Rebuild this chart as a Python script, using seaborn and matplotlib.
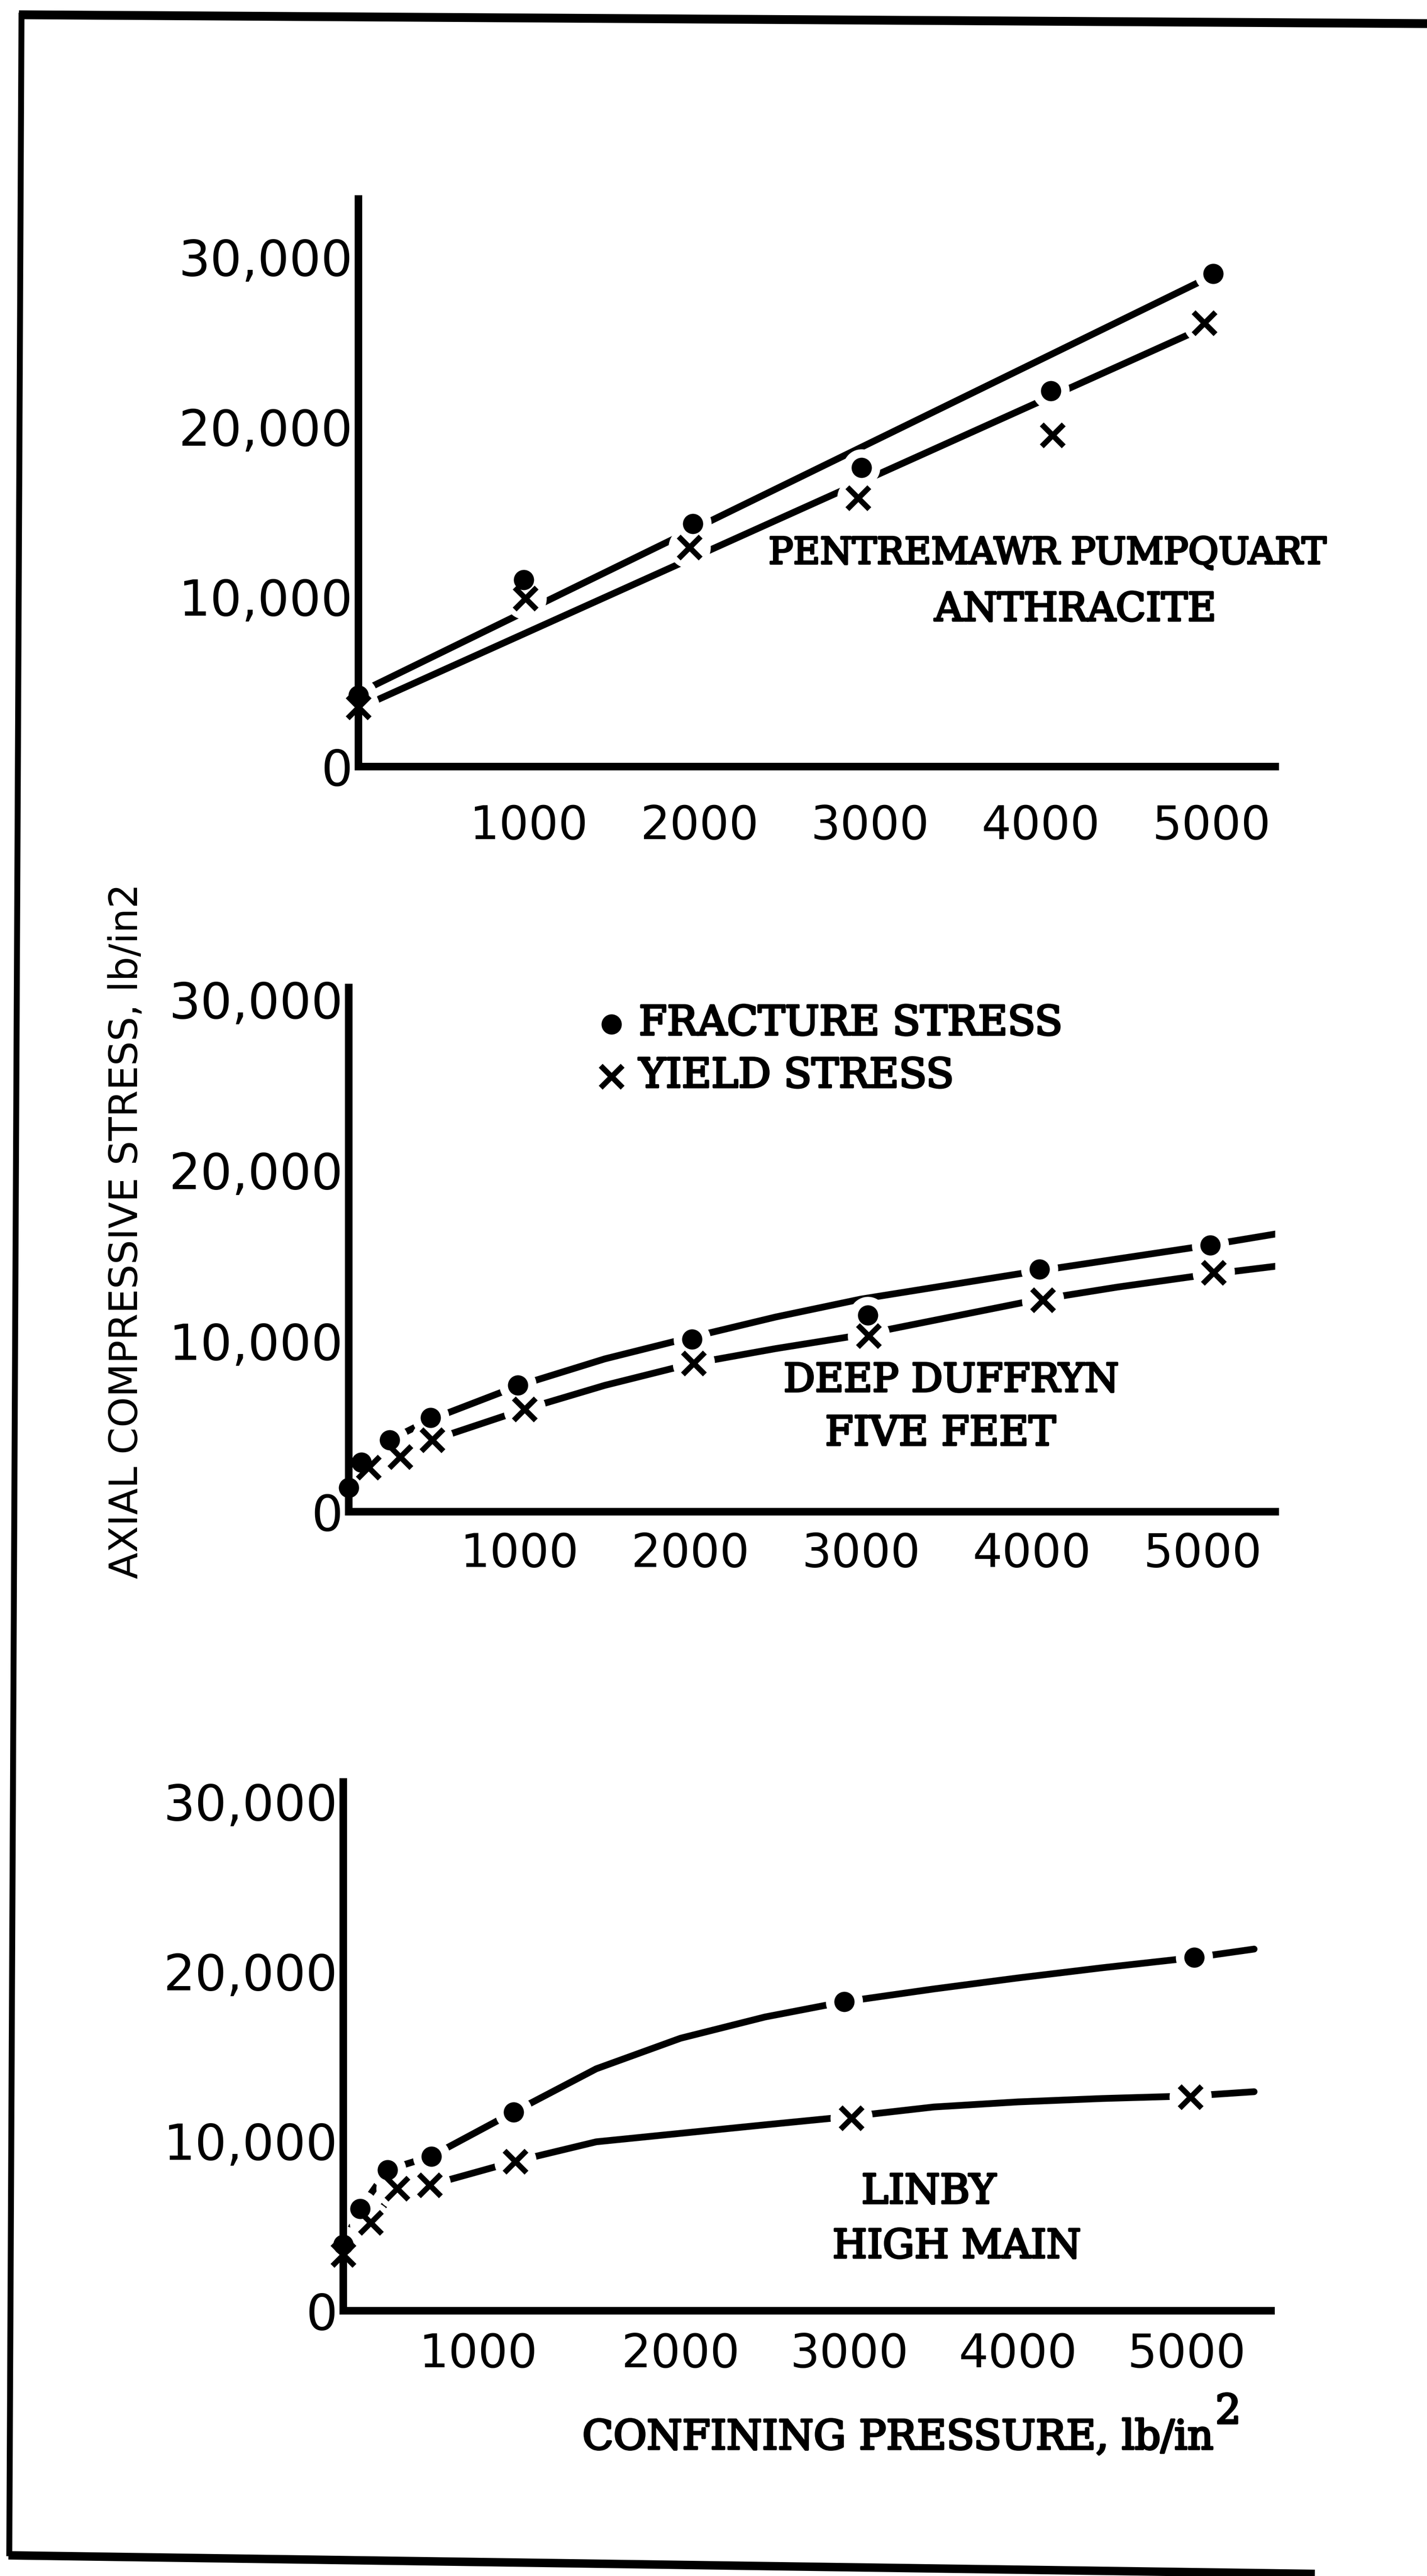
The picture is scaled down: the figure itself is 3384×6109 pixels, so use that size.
import numpy as np
import pandas as pd
import matplotlib
matplotlib.use("Agg")
import matplotlib.pyplot as plt
import matplotlib.patheffects as pe
import seaborn as sns
from matplotlib import font_manager as fm
from matplotlib.textpath import TextPath
from matplotlib.lines import Line2D
from matplotlib.transforms import ScaledTranslation

# ---------------------------------------------------------------- data
# Pentremawr Pumpquart anthracite (confining pressure, axial stress in lb/in2)
PENT_FRAC_P = [0, 970, 1960, 2950, 4060, 5010]
PENT_FRAC_S = [4200, 11000, 14300, 17600, 22100, 29000]
PENT_YIELD_P = [0, 980, 1940, 2930, 4070, 4960]
PENT_YIELD_S = [3500, 9900, 12900, 15800, 19500, 26100]
PENT_FRAC_FIT_P = [0, 5000]
PENT_FRAC_FIT_S = [4330, 28860]
PENT_YIELD_FIT_P = [0, 4950]
PENT_YIELD_FIT_S = [3430, 25800]

# Deep Duffryn Five Feet
DUFF_FRAC_P = [0, 75, 240, 480, 990, 2010, 3040, 4045, 5045]
DUFF_FRAC_S = [1400, 2900, 4200, 5500, 7400, 10100, 11500, 14200, 15600]
DUFF_YIELD_P = [115, 300, 490, 1030, 2020, 3045, 4065, 5065]
DUFF_YIELD_S = [2600, 3200, 4200, 6000, 8700, 10300, 12400, 14000]
DUFF_FRAC_CURVE_P = [0, 75, 240, 480, 1000, 1500, 2000, 2500, 3000, 3500, 4000, 4500, 5000, 5450]
DUFF_FRAC_CURVE_S = [1400, 2900, 4200, 5400, 7400, 8950, 10200, 11400, 12450, 13250, 14050, 14800, 15550, 16300]
DUFF_YIELD_CURVE_P = [0, 115, 300, 490, 1030, 1500, 2000, 2500, 3000, 3500, 4000, 4500, 5000, 5450]
DUFF_YIELD_CURVE_S = [1400, 2600, 3200, 4200, 6000, 7400, 8650, 9550, 10350, 11350, 12350, 13150, 13850, 14400]

# Linby High Main
LIN_FRAC_P = [0, 100, 263, 522, 1010, 2970, 5045]
LIN_FRAC_S = [3900, 6000, 8300, 9100, 11700, 18200, 20800]
LIN_YIELD_P = [0, 163, 320, 512, 1019, 3013, 5022]
LIN_YIELD_S = [3300, 5200, 7200, 7400, 8800, 11350, 12600]
LIN_FRAC_CURVE_P = [0, 100, 263, 522, 1010, 1500, 2000, 2500, 2970, 3500, 4000, 4500, 5045, 5400]
LIN_FRAC_CURVE_S = [3900, 6000, 8300, 9100, 11700, 14250, 16050, 17300, 18200, 18950, 19600, 20200, 20800, 21300]
LIN_YIELD_CURVE_P = [0, 163, 320, 512, 1019, 1500, 2000, 2500, 3013, 3500, 4000, 4500, 5022, 5400]
LIN_YIELD_CURVE_S = [3300, 5200, 7200, 7400, 8800, 9950, 10450, 10950, 11450, 12000, 12300, 12500, 12650, 12900]

# axis ticks and text
X_TICKS = [1000, 2000, 3000, 4000, 5000]
X_TICK_LABELS = ["1000", "2000", "3000", "4000", "5000"]
Y_TICKS = [0, 10000, 20000, 30000]
Y_TICK_LABELS = ["0", "10,000", "20,000", "30,000"]
SERIES_NAMES = ["FRACTURE STRESS", "YIELD STRESS"]
PANEL_NAMES = [["PENTREMAWR PUMPQUART", "ANTHRACITE"],
               ["DEEP DUFFRYN", "FIVE FEET"],
               ["LINBY", "HIGH MAIN"]]
X_LABEL = "CONFINING PRESSURE, lb/in"
X_LABEL_SUP = "2"
Y_LABEL = "AXIAL COMPRESSIVE STRESS, lb/in2"

# ---------------------------------------------------------------- page setup
W, H, DPI = 3384, 6109, 100
PT = 72.0 / DPI          # points per pixel

sns.set_style("white")


def has_font(name):
    try:
        fm.findfont(fm.FontProperties(family=name), fallback_to_default=False)
        return True
    except Exception:
        return False


LETTER = ["Liberation Sans Narrow", "DejaVu Sans"] if has_font("Liberation Sans Narrow") else ["DejaVu Sans"]
TYPE = ["DejaVu Serif", "Liberation Serif"]
plt.rcParams["font.family"] = LETTER
plt.rcParams["axes.axisbelow"] = False

fig = plt.figure(figsize=(W / DPI, H / DPI), dpi=DPI)
fig.patch.set_facecolor("white")


def fx(px):
    return px / W


def fy(py):
    return 1.0 - py / H


def ink(text, family, weight="normal"):
    prop = fm.FontProperties(family=family, weight=weight)
    return TextPath((0, 0), text, size=100, prop=prop).get_extents()


def fit_size(text, family, weight, width_px, height_px=None, height_text="H"):
    """Font size (pt) whose ink width (and optionally cap height) match the targets."""
    s_w = 100.0 * width_px * PT / ink(text, family, weight).width
    if height_px is None:
        return s_w
    s_h = 100.0 * height_px * PT / ink(height_text, family, weight).height
    return float(np.sqrt(s_w * s_h))


YT_SIZE = fit_size("30,000", LETTER, "normal", 377, 94, "0")
XT_SIZE = fit_size("1000", LETTER, "normal", 243, 90, "0")
YL_SIZE = fit_size(Y_LABEL, LETTER, "normal", 1640)
TW_SIZE = fit_size(PANEL_NAMES[0][0], TYPE, "normal", 1300)
CAP_PER_PT = ink("H", TYPE).height / 100.0 / PT     # cap height px per point of size
TW_FX = [pe.withStroke(linewidth=5 * PT, foreground="black")]


def tw_size(text, width_px):
    s = fit_size(text, TYPE, "normal", width_px)
    return float(np.clip(s, 0.88 * TW_SIZE, 1.12 * TW_SIZE))


def typed(cx, cy, text, width_px, ha="center"):
    size = tw_size(text, width_px)
    return fig.text(fx(cx), fy(cy + CAP_PER_PT * size / 2), text, ha=ha, va="baseline",
                    family=TYPE, fontsize=size, color="black", path_effects=TW_FX)


# mark styling (points)
LW = 16 * PT
DOT = 48 * PT
CROSS = 52 * PT
CROSS_LW = 13 * PT
HALO_DOT = 88 * PT
HALO_CROSS = 100 * PT
SPINE_LW = 18 * PT
TICK_LEN = 38 * PT
TICK_W = 11 * PT

# panel geometry: origin px, px per 1000 psi, px per 10000 stress, limits, label pad
PANELS = [
    dict(ox=850, oy=1818, sx=404.5, sy=403.0, xmax=5375, ymax=33400, pad=88,
         frac=(PENT_FRAC_P, PENT_FRAC_S), yld=(PENT_YIELD_P, PENT_YIELD_S),
         frac_line=(PENT_FRAC_FIT_P, PENT_FRAC_FIT_S),
         yld_line=(PENT_YIELD_FIT_P, PENT_YIELD_FIT_S),
         names=[(2484, 1305, 1317), (2550, 1438, 661)]),
    dict(ox=827, oy=3585, sx=405.0, sy=405.0, xmax=5425, ymax=30700, pad=47,
         frac=(DUFF_FRAC_P, DUFF_FRAC_S), yld=(DUFF_YIELD_P, DUFF_YIELD_S),
         frac_line=(DUFF_FRAC_CURVE_P, DUFF_FRAC_CURVE_S),
         yld_line=(DUFF_YIELD_CURVE_P, DUFF_YIELD_CURVE_S),
         names=[(2256, 3266, 786), (2230, 3392, 599)]),
    dict(ox=814, oy=5480, sx=400.0, sy=402.7, xmax=5500, ymax=31150, pad=50,
         frac=(LIN_FRAC_P, LIN_FRAC_S), yld=(LIN_YIELD_P, LIN_YIELD_S),
         frac_line=(LIN_FRAC_CURVE_P, LIN_FRAC_CURVE_S),
         yld_line=(LIN_YIELD_CURVE_P, LIN_YIELD_CURVE_S),
         names=[(2202, 5190, 322), (2269, 5320, 580)]),
]

axes = []
for i, p in enumerate(PANELS):
    right = p["ox"] + p["xmax"] / 1000.0 * p["sx"]
    top = p["oy"] - p["ymax"] / 10000.0 * p["sy"]
    ax = fig.add_axes([fx(p["ox"]), fy(p["oy"]), fx(right) - fx(p["ox"]), (p["oy"] - top) / H])
    ax.patch.set_alpha(0)
    axes.append(ax)

    # trend lines through each series
    for xs, ys in (p["frac_line"], p["yld_line"]):
        df = pd.DataFrame({"p": xs, "s": ys})
        sns.lineplot(data=df, x="p", y="s", ax=ax, color="black", linewidth=LW,
                     estimator=None, sort=False, solid_capstyle="round", zorder=2)

    fr = pd.DataFrame({"p": p["frac"][0], "s": p["frac"][1]})
    yl = pd.DataFrame({"p": p["yld"][0], "s": p["yld"][1]})

    # white surround that opens the lines around each plotted point
    sns.scatterplot(data=fr, x="p", y="s", ax=ax, color="white", s=HALO_DOT ** 2,
                    linewidth=0, edgecolor=None, zorder=2.2, clip_on=False, legend=False)
    sns.scatterplot(data=yl, x="p", y="s", ax=ax, color="white", s=HALO_CROSS ** 2,
                    linewidth=0, edgecolor=None, zorder=2.2, clip_on=False, legend=False)

    # measured points
    sns.scatterplot(data=fr, x="p", y="s", ax=ax, marker="o", color="black",
                    s=DOT ** 2, linewidth=0, edgecolor=None, zorder=3, clip_on=False,
                    label=SERIES_NAMES[0])
    sns.scatterplot(data=yl, x="p", y="s", ax=ax, marker="x", color="black",
                    s=CROSS ** 2, linewidth=CROSS_LW, edgecolor=None, zorder=3,
                    clip_on=False, label=SERIES_NAMES[1])

    ax.set_xlim(0, p["xmax"])
    ax.set_ylim(0, p["ymax"])
    ax.set_xticks(X_TICKS)
    ax.set_xticklabels(X_TICK_LABELS)
    ax.set_yticks(Y_TICKS)
    ax.set_yticklabels(Y_TICK_LABELS)
    ax.set_xlabel("")
    ax.set_ylabel("")
    for side in ("top", "right"):
        ax.spines[side].set_visible(False)
    for side in ("left", "bottom"):
        ax.spines[side].set_linewidth(SPINE_LW)
        ax.spines[side].set_color("black")
        ax.spines[side].set_capstyle("projecting")
    ax.tick_params(axis="both", direction="in", length=TICK_LEN, width=TICK_W,
                   color="black", labelcolor="black")
    ax.tick_params(axis="x", pad=p["pad"] * PT, labelsize=XT_SIZE)
    ax.tick_params(axis="y", pad=14 * PT, labelsize=YT_SIZE)
    if ax.get_legend() is not None:
        ax.get_legend().remove()

    # specimen name
    for (cx, cy, wpx), txt in zip(p["names"], PANEL_NAMES[i]):
        typed(cx, cy, txt, wpx)

# key in the middle panel
LEG_SIZE = tw_size(SERIES_NAMES[0], 1000)
fs_px = LEG_SIZE / PT
handles, labels = axes[1].get_legend_handles_labels()
leg = axes[1].legend(handles[:2], labels[:2], loc="center left",
                     bbox_to_anchor=(fx(1450 - 0.4 * fs_px), fy(2490)),
                     bbox_transform=fig.transFigure,
                     frameon=False, borderpad=0, borderaxespad=0, scatterpoints=1,
                     handlelength=0.8, handletextpad=(1515 - 1450 - 0.4 * fs_px) / fs_px,
                     labelspacing=0.33,
                     prop=fm.FontProperties(family=TYPE, size=LEG_SIZE))
for t in leg.get_texts():
    t.set_color("black")
    t.set_path_effects(TW_FX)

# the 1000 label of the lowest scale sits left of its tick
lab = axes[2].get_xticklabels()[0]
lab.set_transform(lab.get_transform() + ScaledTranslation(-80 / DPI, 0, fig.dpi_scale_trans))

# axis titles
fig.text(fx(300), fy(2920), Y_LABEL, rotation=90, ha="center", va="center",
         family=LETTER, fontsize=YL_SIZE, color="black")
xl = typed(1381, 5773, X_LABEL, 1600, ha="left")
renderer = fig.canvas.get_renderer()
xl_right = xl.get_window_extent(renderer).x1          # display px from the left
sup_size = xl.get_fontsize()
fig.text(fx(xl_right + 6), fy(5712 + CAP_PER_PT * sup_size / 2), X_LABEL_SUP, ha="left",
         va="baseline", family=TYPE, fontsize=sup_size, color="black", path_effects=TW_FX)

# page border
for (x0, y0), (x1, y1), w in [((45, 35), (3384, 56), 21),
                               ((51, 30), (22, 6062), 14),
                               ((20, 6060), (3118, 6104), 20)]:
    fig.add_artist(Line2D([fx(x0), fx(x1)], [fy(y0), fy(y1)], transform=fig.transFigure,
                          color="black", linewidth=w * PT, solid_capstyle="butt"))

fig.savefig("out.png", dpi=DPI, facecolor="white")
